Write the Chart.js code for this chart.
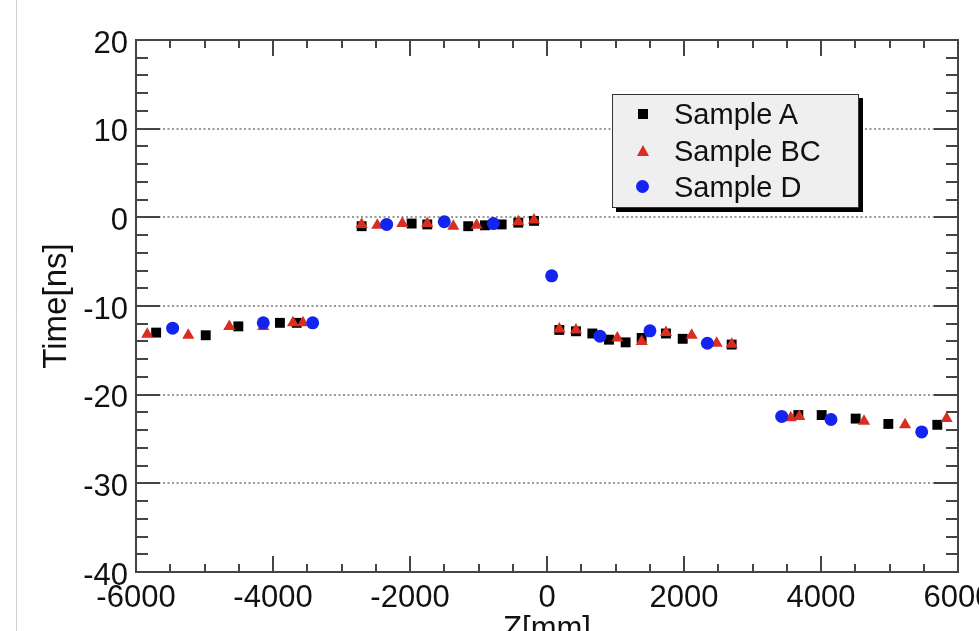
<!DOCTYPE html>
<html>
<head>
<meta charset="utf-8">
<script src="https://cdn.jsdelivr.net/npm/chart.js@4.4.1/dist/chart.umd.min.js"></script>
<style>
html,body{margin:0;padding:0;background:#fff;}
#wrap{position:relative;width:979px;height:631px;overflow:hidden;background:#fff;}
#legend{position:absolute;left:612px;top:94px;width:245px;height:112px;border:1px solid #333;background:#efefef;box-shadow:4px 4px 0 #000;font-family:"Liberation Sans",Arial,Helvetica,sans-serif;font-size:29px;color:#111;}
.row{position:absolute;left:0;width:100%;height:36px;line-height:36px;}
.txt{position:absolute;left:61px;top:0;white-space:nowrap;}
.mk{position:absolute;}
.sq{left:25px;top:13px;width:10px;height:10px;background:#000;}
.tri{left:24px;top:12px;width:0;height:0;border-left:6px solid transparent;border-right:6px solid transparent;border-bottom:11px solid #d92d20;}
.cir{left:23px;top:11px;width:13px;height:13px;border-radius:50%;background:#1424f0;}
</style>
</head>
<body>
<div id="wrap">
  <canvas id="c" width="979" height="631"></canvas>
  <div id="legend">
    <div class="row" style="top:1px"><span class="mk sq"></span><span class="txt">Sample A</span></div>
    <div class="row" style="top:38px"><span class="mk tri"></span><span class="txt">Sample BC</span></div>
    <div class="row" style="top:74px"><span class="mk cir"></span><span class="txt">Sample D</span></div>
  </div>
</div>
<script>
// ---- data (Z in mm, Time in ns) ----
const seriesNames = ["Sample A", "Sample BC", "Sample D"];

const aZ = [-5706, -4982, -4506, -3899, -3654,
            -2706, -1976, -1748, -1150, -906, -662, -419, -190,
            180, 423, 662, 905, 1148, 1382, 1737, 1981, 2696,
            3669, 4010, 4506, 4983, 5698];
const aT = [-13.0, -13.3, -12.3, -11.9, -11.9,
            -1.0, -0.7, -0.8, -1.0, -0.9, -0.8, -0.6, -0.4,
            -12.7, -12.85, -13.1, -13.8, -14.1, -13.6, -13.1, -13.7, -14.35,
            -22.3, -22.3, -22.7, -23.3, -23.4];

const bcZ = [-5836, -5237, -4638, -4142, -3708, -3563,
             -2706, -2477, -2112, -1748, -1368, -1027, -419, -190,
             180, 423, 1026, 1382, 1737, 2112, 2477, 2696,
             3558, 3683, 4628, 5227, 5834];
const bcT = [-13.2, -13.3, -12.3, -12.3, -11.9, -11.9,
             -0.8, -0.9, -0.7, -0.7, -1.0, -0.9, -0.5, -0.3,
             -12.6, -12.7, -13.6, -14.0, -13.0, -13.3, -14.2, -14.3,
             -22.6, -22.45, -23.0, -23.4, -22.7];

const dZ = [-5465, -4142, -3421,
            -2341, -1500, -784,
            68,
            773, 1503, 2341,
            3426, 4146, 5470];
const dT = [-12.5, -11.9, -11.9,
            -0.8, -0.5, -0.7,
            -6.6,
            -13.4, -12.8, -14.2,
            -22.45, -22.8, -24.2];

const xMin = -6000, xMax = 6000, xStep = 2000, xMinorStep = 500;
const yMin = -40, yMax = 20, yStep = 10, yMinorStep = 2;

const pts = (zs, ts) => zs.map((z, i) => ({x: z, y: ts[i]}));

const FONT = '"Liberation Sans", Arial, Helvetica, sans-serif';

const frame = {
  id: 'frame',
  beforeDatasetsDraw(chart) {
    const {ctx, chartArea: a, scales: {x, y}} = chart;
    const line = (x1, y1, x2, y2) => { ctx.beginPath(); ctx.moveTo(x1, y1); ctx.lineTo(x2, y2); ctx.stroke(); };
    ctx.save();
    ctx.strokeStyle = '#444';
    ctx.lineWidth = 2;
    for (let v = xMin; v <= xMax; v += xMinorStep) {
      const px = Math.round(x.getPixelForValue(v));
      const L = (v % xStep === 0) ? 16 : 8;
      line(px, a.bottom, px, a.bottom - L);
      line(px, a.top, px, a.top + L);
    }
    for (let v = yMin; v <= yMax; v += yMinorStep) {
      const py = Math.round(y.getPixelForValue(v));
      const L = (v % yStep === 0) ? 24 : 12;
      line(a.left, py, a.left + L, py);
      line(a.right, py, a.right - L, py);
    }
    ctx.strokeRect(a.left, a.top, a.right - a.left, a.bottom - a.top);
    ctx.strokeStyle = '#cfcfcf';
    ctx.lineWidth = 1;
    line(16.5, 0, 16.5, chart.height);
    ctx.restore();
  }
};

new Chart(document.getElementById('c'), {
  type: 'scatter',
  data: {
    datasets: [
      {label: seriesNames[0], data: pts(aZ, aT), pointStyle: 'rect', pointRadius: 7, backgroundColor: '#000000', borderWidth: 0, order: 3},
      {label: seriesNames[1], data: pts(bcZ, bcT), pointStyle: 'triangle', pointRadius: 7, backgroundColor: '#d92d20', borderWidth: 0, order: 2},
      {label: seriesNames[2], data: pts(dZ, dT), pointStyle: 'circle', pointRadius: 6.5, backgroundColor: '#1424f0', borderWidth: 0, order: 1}
    ]
  },
  options: {
    responsive: false,
    animation: false,
    devicePixelRatio: 1,
    events: [],
    layout: {padding: {left: 0, right: 21, top: 40, bottom: 0}},
    plugins: {legend: {display: false}, tooltip: {enabled: false}},
    scales: {
      x: {
        type: 'linear', min: xMin, max: xMax,
        ticks: {stepSize: xStep, autoSkip: false, maxRotation: 0, padding: 8, color: '#111',
                font: {family: FONT, size: 31}, callback: v => String(v)},
        grid: {display: false, drawTicks: false},
        border: {display: false},
        title: {display: true, text: 'Z[mm]', color: '#111', font: {family: FONT, size: 31}, padding: {top: 0, bottom: -17}},
        afterFit(s) { s.height = 59; s.paddingLeft = 0; s.paddingRight = 0; }
      },
      y: {
        type: 'linear', min: yMin, max: yMax,
        ticks: {stepSize: yStep, padding: 8, labelOffset: 4, color: '#111', font: {family: FONT, size: 31},
                callback: v => String(v)},
        grid: {drawTicks: false, lineWidth: 2,
               color: c => (c.tick && (c.tick.value === yMax || c.tick.value === yMin)) ? 'rgba(0,0,0,0)' : '#9a9a9a'},
        border: {display: false, dash: [2, 2.5]},
        title: {display: true, text: 'Time[ns]', color: '#111', font: {family: FONT, size: 33}, padding: {top: 37, bottom: 0}},
        afterFit(s) { s.width = 136; s.paddingTop = 0; s.paddingBottom = 0; }
      }
    }
  },
  plugins: [frame]
});
</script>
</body>
</html>
